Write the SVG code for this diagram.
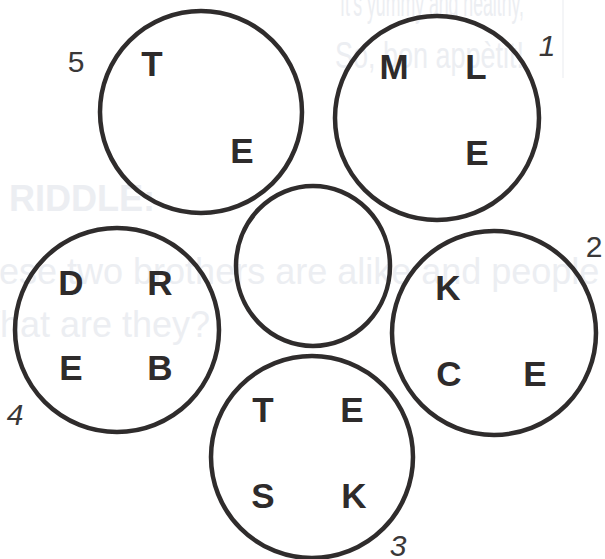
<svg xmlns="http://www.w3.org/2000/svg" width="605" height="559" viewBox="0 0 605 559">
<style>
.ring{fill:none;stroke:#2f2c2c;stroke-width:4.5}
.let{font-family:"Liberation Sans",Arial,sans-serif;font-weight:bold;font-size:35px;fill:#2e2b2b;text-anchor:middle}
.num{font-family:"Liberation Sans",Arial,sans-serif;font-size:30px;fill:#3a3838;text-anchor:middle}
.it{font-style:italic}
.ghost{font-family:"Liberation Sans",Arial,sans-serif;font-size:36px;fill:#eceef2}
</style>
<rect width="605" height="559" fill="#ffffff"/>
<g id="background-print">
<text class="ghost" x="340" y="16" font-size="29" textLength="184" lengthAdjust="spacingAndGlyphs">It's yummy and healthy,</text>
<text class="ghost" x="335" y="68" font-size="32" textLength="189" lengthAdjust="spacingAndGlyphs">So, bon appètit!</text>
<text class="ghost" x="9" y="211" font-weight="bold">RIDDLE:</text>
<text class="ghost" x="-43" y="284" font-size="37">These two brothers are alike and people</text>
<text class="ghost" x="-34" y="337">What are they?</text>
<line x1="563" y1="0" x2="563" y2="78" stroke="#f0f2f4" stroke-width="1.5"/>
</g>
<g id="connectors"></g>
<g id="circle-5">
<circle class="ring" cx="201" cy="112" r="101"/>
<text class="let" x="152" y="76">T</text>
<text class="let" x="242" y="163">E</text>
<text class="num" x="76" y="72">5</text>
</g>
<g id="circle-1">
<circle class="ring" cx="437" cy="118" r="102"/>
<text class="let" x="394" y="79">M</text>
<text class="let" x="476" y="79">L</text>
<text class="let" x="477" y="165">E</text>
<text class="num it" x="547" y="56">1</text>
</g>
<g id="circle-center">
<ellipse class="ring" cx="313" cy="266" rx="77" ry="80"/>
</g>
<g id="circle-4">
<circle class="ring" cx="117" cy="330" r="102"/>
<text class="let" x="71" y="295">D</text>
<text class="let" x="160" y="295">R</text>
<text class="let" x="71" y="380">E</text>
<text class="let" x="160" y="380">B</text>
<text class="num it" x="15" y="425">4</text>
</g>
<g id="circle-2">
<circle class="ring" cx="494" cy="333" r="102"/>
<text class="let" x="448" y="300">K</text>
<text class="let" x="449" y="386">C</text>
<text class="let" x="535" y="386">E</text>
<text class="num" x="594" y="257">2</text>
</g>
<g id="circle-3">
<circle class="ring" cx="312" cy="457" r="101"/>
<text class="let" x="263" y="422">T</text>
<text class="let" x="352" y="422">E</text>
<text class="let" x="263" y="508">S</text>
<text class="let" x="354" y="508">K</text>
<text class="num it" x="398" y="556">3</text>
</g>
</svg>
